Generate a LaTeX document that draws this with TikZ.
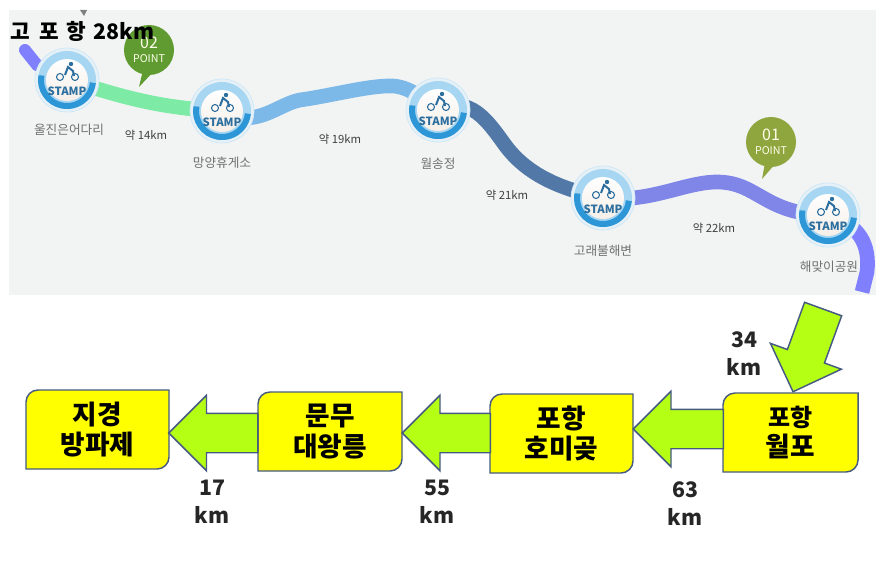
\documentclass[tikz,border=0pt]{standalone}
\usepackage{fontspec}
\setmainfont{Noto Sans CJK KR}
\usetikzlibrary{shapes.arrows,calc}
\pgfdeclarelayer{back}
\pgfsetlayers{back,main}
\definecolor{panelgray}{HTML}{F2F4F4}
\definecolor{greenroute}{HTML}{7DEBA5}
\definecolor{blueroute}{HTML}{7DB9E8}
\definecolor{darkroute}{HTML}{5178A6}
\definecolor{purpleroute}{HTML}{7F86E8}
\definecolor{violetroute}{HTML}{8080FF}
\definecolor{stampdark}{HTML}{2D96D6}
\definecolor{stamplight}{HTML}{A6D6F2}
\definecolor{stamppale}{HTML}{E6F1F7}
\definecolor{stampink}{HTML}{2C6E9E}
\definecolor{arrowlime}{HTML}{B4FF14}
\definecolor{edgeblue}{HTML}{465A82}
\definecolor{labelgray}{HTML}{707070}
\definecolor{boxyellow}{HTML}{FFFF00}
\definecolor{pointgreen}{HTML}{5F9B30}
\definecolor{pointolive}{HTML}{8FA53D}
\newcommand{\stampnode}[3]{
            \node[stampouter] (#1) at (#2,#3) {};
            \fill[stamplight] (#1.center) circle[radius=29];
            \draw[stampdark,line width=4.5pt] (#1.center) ++(170:26) arc[start angle=170,end angle=354,radius=26];
            \shade[top color=white,bottom color=black!8!brown!12!white] (#1.center) circle[radius=21];
            \begin{scope}[shift={(#2,#3)}]
                \draw[stampink,line width=.8pt] (-7,3) circle[radius=3.5];
                \draw[stampink,line width=.8pt] (8,3) circle[radius=3.5];
                \draw[stampink,line width=1.5pt] (-2,5) -- (1,13) -- (6,9) -- (7,4);
                \fill[stampink] (4,16) circle[radius=2.2];
            \end{scope}
            \node[stamptext] (#1text) at ([yshift=-8.5pt]#1.center) {STAMP};
}
\newcommand{\placebox}[6]{
            \draw[boxline] (#2,#5) [rounded corners=9pt] -- (#2,#3) [sharp corners] -- (#4,#3) [rounded corners=9pt] -- (#4,#5) [sharp corners] -- cycle;
            \node[boxtext,minimum width={(#4-#2)*.75pt},minimum height={(#3-#5)*.75pt}] (#1) at ({(#2+#4)/2},{(#3+#5)/2}) {#6};
}
\begin{document}
\begin{tikzpicture}[x=.75pt,y=.75pt,
        route/.style={line width=11pt,line cap=butt},
        stampouter/.style={circle,fill=stamppale,draw=stamplight!60,line width=.5pt,minimum size=48pt,inner sep=0pt},
        stamptext/.style={text=stampink,font=\bfseries\fontsize{8.5}{9}\selectfont,inner sep=0pt},
        placelabel/.style={text=labelgray,font=\fontsize{9.5}{11}\selectfont,inner sep=0pt},
        distlabel/.style={text=black!75,font=\fontsize{8.5}{10}\selectfont,inner sep=0pt},
        pointlabel/.style={circle,minimum size=37.5pt,inner sep=0pt,align=center,text=white!92!yellow,font=\fontsize{8}{10.5}\selectfont},
        boxline/.style={fill=boxyellow,draw=edgeblue,line width=1.1pt},
        boxtext/.style={align=center,inner sep=0pt,font=\bfseries\fontsize{20}{23}\selectfont},
        kmlabel/.style={align=center,inner sep=0pt,font=\bfseries\fontsize{16}{21}\selectfont,text=black!85},
        flowarrow/.style={single arrow,fill=arrowlime,draw=edgeblue,line width=1.1pt,inner xsep=0pt,inner ysep=14.25pt,outer sep=0pt,
            single arrow head extend=13.5pt,single arrow tip angle=90,anchor=tip}]
    \useasboundingbox (0,0) rectangle (887,-563);

    \coordinate (routestart) at (25,-50);
    \coordinate (routeend) at (862,-292);
    \stampnode{uljin}{67}{-80}
    \stampnode{mangyang}{222}{-111}
    \stampnode{wolsong}{438}{-110}
    \stampnode{gorae}{603}{-198}
    \stampnode{haemaji}{828}{-215}

    % panel and routes go under the stamps
    \begin{pgfonlayer}{back}
        \fill[panelgray] (9,-10) rectangle (876,-295);
        \fill[gray] (80,-10) -- (87,-10) -- (84,-16) -- cycle;
        \draw[violetroute,line width=9pt,line cap=round] (routestart) -- (37,-65) -- (uljin.center);
        \draw[route,greenroute] (uljin.center) .. controls (110,-92) and (150,-108) .. (mangyang.center);
        \draw[route,blueroute] (mangyang.center) .. controls (255,-130) and (278,-104) .. (300,-100)
            .. controls (330,-96) and (370,-85) .. (393,-86) .. controls (410,-87) and (425,-100) .. (wolsong.center);
        \draw[route,darkroute] (wolsong.center) .. controls (470,-95) and (487,-120) .. (505,-145)
            .. controls (525,-172) and (555,-188) .. (gorae.center);
        \draw[route,purpleroute] (gorae.center) .. controls (650,-203) and (685,-182) .. (717,-182)
            .. controls (758,-182) and (765,-215) .. (haemaji.center);
        \draw[route,violetroute] (haemaji.center) .. controls (860,-225) and (870,-245) .. (867,-272) -- (routeend);
    \end{pgfonlayer}

    \node[placelabel] (uljinlabel) at (69,-130) {울진은어다리};
    \node[placelabel] (mangyanglabel) at (222,-163) {망양휴게소};
    \node[placelabel] (wolsonglabel) at (438,-164) {월송정};
    \node[placelabel] (goraelabel) at (603,-251) {고래불해변};
    \node[placelabel] (haemajilabel) at (829,-267) {해맞이공원};
    \node[distlabel] (dista) at (146,-135) {약 14km};
    \node[distlabel] (distb) at (340,-139) {약 19km};
    \node[distlabel] (distc) at (507,-195) {약 21km};
    \node[distlabel] (distd) at (714,-228) {약 22km};

    \fill[pointgreen] (143,-70) -- (155,-70) -- (139,-87) -- cycle;
    \node[pointlabel,fill=pointgreen] (pointb) at (149,-50) {{\fontsize{12}{13}\selectfont 02}\\POINT};
    \fill[pointolive] (765,-163) -- (776,-163) -- (762,-179) -- cycle;
    \node[pointlabel,fill=pointolive] (pointa) at (771,-142) {{\fontsize{12}{13}\selectfont 01}\\POINT};

    \node[inner sep=0pt,anchor=west,font=\bfseries\fontsize{16}{18}\selectfont] (handnote) at (10,-31) {고\hspace{7.5pt}포\hspace{5pt}항\hspace{6pt}28km};

    \placebox{wolpo}{723}{-393}{858}{-472}{\fontsize{18}{23}\selectfont 포항\\월포}
    \placebox{homigot}{490}{-394}{633}{-473}{포항\\호미곶}
    \placebox{munmu}{258}{-392}{402}{-471}{문무\\대왕릉}
    \placebox{jigyeong}{26}{-390}{169}{-469}{지경\\방파제}

    \node[flowarrow,minimum height=66.75pt,rotate=180] (arrowa) at ($(jigyeong.east)+(-.5,-3.5)$) {};
    \node[flowarrow,minimum height=66pt,rotate=180] (arrowb) at ($(munmu.east)+(0,-1.5)$) {};
    \node[flowarrow,minimum height=67.5pt,rotate=180] (arrowc) at ($(homigot.east)+(0,4.5)$) {};
    \node[flowarrow,minimum height=66pt,rotate=250] (arrowd) at ($(wolpo.north)+(2.5,1)$) {};

    \node[kmlabel] (kma) at (212,-502) {17\\km};
    \node[kmlabel] (kmb) at (437,-502) {55\\km};
    \node[kmlabel] (kmc) at (685,-504) {63\\km};
    \node[kmlabel] (kmd) at (744,-354) {34\\km};
\end{tikzpicture}
\end{document}
